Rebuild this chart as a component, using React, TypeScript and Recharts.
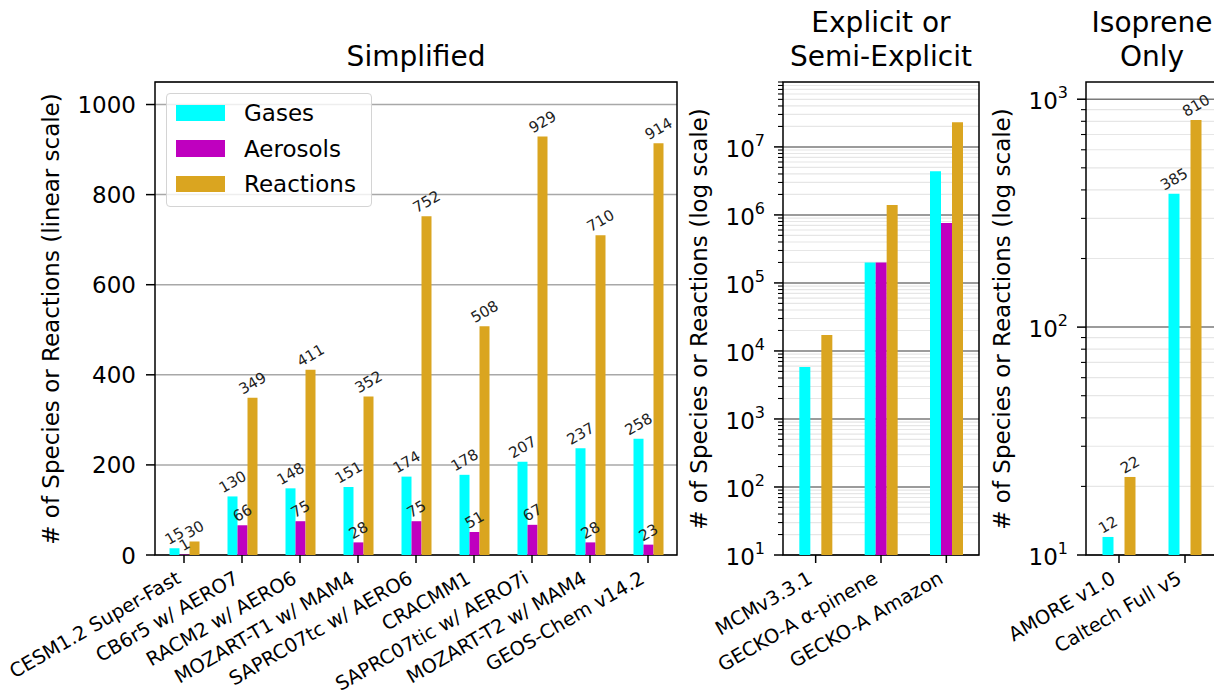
import { BarChart, Bar, XAxis, YAxis, CartesianGrid, Legend, LabelList, ReferenceArea } from 'recharts'

const FONT = "'DejaVu Sans', sans-serif"
const GAS = '#00ffff'
const AER = '#bf00bf'
const RXN = '#daa520'

// Simplified mechanisms (linear scale)
const simpleModels = [
  'CESM1.2 Super-Fast',
  'CB6r5 w/ AERO7',
  'RACM2 w/ AERO6',
  'MOZART-T1 w/ MAM4',
  'SAPRC07tc w/ AERO6',
  'CRACMM1',
  'SAPRC07tic w/ AERO7i',
  'MOZART-T2 w/ MAM4',
  'GEOS-Chem v14.2',
]
const simpleGases = [15, 130, 148, 151, 174, 178, 207, 237, 258]
const simpleAerosols = [1, 66, 75, 28, 75, 51, 67, 28, 23]
const simpleReactions = [30, 349, 411, 352, 752, 508, 929, 710, 914]
const linearTicks = [0, 200, 400, 600, 800, 1000]

// Explicit or semi-explicit (log scale)
const explicitModels = ['MCMv3.3.1', 'GECKO-A α-pinene', 'GECKO-A Amazon']
const explicitGases = [5800, 200000, 4400000]
const explicitAerosols = [null, 200000, 760000]
const explicitReactions = [17200, 1400000, 23000000]
const explicitMajor = [1e1, 1e2, 1e3, 1e4, 1e5, 1e6, 1e7]

// Isoprene only (log scale)
const isopreneModels = ['AMORE v1.0', 'Caltech Full v5']
const isopreneGases = [12, 385]
const isopreneAerosols = [null, null]
const isopreneReactions = [22, 810]
const isopreneMajor = [1e1, 1e2, 1e3]

const seriesOrder = ['Gases', 'Aerosols', 'Reactions']

const minorsFor = (majors: number[], max: number) => {
  const out: number[] = []
  majors.forEach(d => {
    for (let m = 2; m <= 9; m++) if (m * d <= max) out.push(m * d)
  })
  return out
}

const explicitDomain: [number, number] = [10, 9e7]
const isopreneDomain: [number, number] = [10, 1190]
const explicitMinor = minorsFor(explicitMajor, explicitDomain[1])
const isopreneMinor = minorsFor(isopreneMajor, isopreneDomain[1])

const toRows = (names: string[], g: (number | null)[], a: (number | null)[], r: (number | null)[]) =>
  names.map((name, i) => ({ name, gases: g[i], aerosols: a[i], reactions: r[i] }))

const simpleData = toRows(simpleModels, simpleGases, simpleAerosols, simpleReactions)
const explicitData = toRows(explicitModels, explicitGases, explicitAerosols, explicitReactions)
const isopreneData = toRows(isopreneModels, isopreneGases, isopreneAerosols, isopreneReactions)

function LinearTick({ x, y, payload }: any) {
  return (
    <g>
      <line x1={x - 9} x2={x} y1={y} y2={y} stroke="#000" strokeWidth={1.5} />
      <text x={x - 19} y={y} dy={8.5} textAnchor="end" fontSize={23} fontFamily={FONT} fill="#000">
        {payload.value}
      </text>
    </g>
  )
}

const makeLogTick = (majors: number[]) =>
  function LogTick({ x, y, payload }: any) {
    const v = payload.value
    if (!majors.includes(v)) {
      return <line x1={x - 5} x2={x} y1={y} y2={y} stroke="#000" strokeWidth={1.1} />
    }
    const exp = Math.round(Math.log10(v))
    return (
      <g>
        <line x1={x - 9} x2={x} y1={y} y2={y} stroke="#000" strokeWidth={1.5} />
        <text x={x - 18} y={y} dy={10} textAnchor="end" fontSize={23} fontFamily={FONT} fill="#000">
          <tspan>10</tspan>
          <tspan dy={-11} fontSize={16}>{exp}</tspan>
        </text>
      </g>
    )
  }

function CategoryTick({ x, y, payload }: any) {
  const tx = x - 2
  const ty = y + 27
  return (
    <g>
      <line x1={x} x2={x} y1={y} y2={y + 8} stroke="#000" strokeWidth={1.5} />
      <text x={tx} y={ty} textAnchor="end" fontSize={19.4} fontFamily={FONT} fill="#000"
        transform={`rotate(-30 ${tx} ${ty})`}>
        {payload.value}
      </text>
    </g>
  )
}

function ValueLabel(props: any) {
  const { x, y, width, value } = props
  if (value == null) return null
  const fs = 15
  const w = String(value).length * 0.636 * fs
  const cx = Number(x) + Number(width) / 2
  const cy = Number(y) - (w * 0.5 + fs * 0.866) / 2 - 1
  return (
    <text x={cx} y={cy} dy="0.35em" textAnchor="middle" fontSize={fs} fontFamily={FONT} fill="#222"
      transform={`rotate(-30 ${cx} ${cy})`}>
      {value}
    </text>
  )
}

function LegendBox(props: any) {
  const payload = [...(props?.payload || [])].sort(
    (a: any, b: any) => seriesOrder.indexOf(a.value) - seriesOrder.indexOf(b.value),
  )
  return (
    <div style={{
      position: 'relative', width: 206, height: 114, boxSizing: 'border-box',
      border: '1.5px solid #d4d4d4', borderRadius: 4, background: 'rgba(255,255,255,0.8)',
      fontFamily: FONT, fontSize: 23, color: '#000',
    }}>
      {payload.map((p: any, i: number) => (
        <div key={String(p.value)}>
          <div style={{ position: 'absolute', left: 9, top: 10.5 + i * 35.7, width: 49, height: 16.5, background: p.color }} />
          <div style={{ position: 'absolute', left: 77, top: 4.8 + i * 35.7, height: 28, lineHeight: '28px', whiteSpace: 'nowrap' }}>
            {p.value}
          </div>
        </div>
      ))}
    </div>
  )
}

const PLOT_TOP = 82
const X_AXIS_H = 143

const titleStyle: any = {
  position: 'absolute', transform: 'translateX(-50%)', fontFamily: FONT, fontSize: 28,
  lineHeight: '34px', textAlign: 'center', whiteSpace: 'nowrap',
}

const Titles = () => (
  <>
    <div style={{ ...titleStyle, left: 416, top: 40 }}>Simplified</div>
    <div style={{ ...titleStyle, left: 881, top: 6 }}>Explicit or<br />Semi-Explicit</div>
    <div style={{ ...titleStyle, left: 1152, top: 6 }}>Isoprene<br />Only</div>
  </>
)

const YLabel = ({ x, text }: { x: number; text: string }) => (
  <div style={{
    position: 'absolute', left: x - 8, top: 318.5, transform: 'translate(-50%, -50%) rotate(-90deg)',
    fontFamily: FONT, fontSize: 23, whiteSpace: 'nowrap', lineHeight: 'normal',
  }}>
    {text}
  </div>
)

export default function App() {
  return (
    <div style={{ position: 'fixed', left: 0, top: 0, width: 1214, height: 698, overflow: 'hidden', background: '#fff' }}>
      {/* Simplified */}
      <div style={{ position: 'absolute', left: 0, top: 0 }}>
        <BarChart width={700} height={698} data={simpleData} barGap={0} barCategoryGap="25%"
          margin={{ top: PLOT_TOP, right: 23, bottom: 0, left: 0 }}>
          <CartesianGrid vertical={false} stroke="#a8a8a8" strokeWidth={1.5} />
          <XAxis dataKey="name" type="category" interval={0} height={X_AXIS_H} axisLine={false}
            tickLine={false} tickSize={0} tickMargin={0} tick={<CategoryTick />} />
          <YAxis type="number" domain={[0, 1050]} ticks={linearTicks} interval={0} width={155}
            axisLine={false} tickLine={false} tickSize={0} tickMargin={0} tick={<LinearTick />} allowDataOverflow />
          <Legend layout="vertical" align="center" verticalAlign="middle" content={<LegendBox />}
            wrapperStyle={{ left: 166, top: 93, width: 206, height: 114 }} />
          <Bar dataKey="gases" name="Gases" fill={GAS} isAnimationActive={false}>
            <LabelList dataKey="gases" content={<ValueLabel />} />
          </Bar>
          <Bar dataKey="aerosols" name="Aerosols" fill={AER} isAnimationActive={false}>
            <LabelList dataKey="aerosols" content={<ValueLabel />} />
          </Bar>
          <Bar dataKey="reactions" name="Reactions" fill={RXN} isAnimationActive={false}>
            <LabelList dataKey="reactions" content={<ValueLabel />} />
          </Bar>
          <ReferenceArea y1={0} y2={1050} fill="none" stroke="#000" strokeWidth={1.5} />
        </BarChart>
      </div>

      {/* Explicit or Semi-Explicit */}
      <div style={{ position: 'absolute', left: 680, top: 0 }}>
        <BarChart width={320} height={698} data={explicitData} barGap={0} barCategoryGap="25%"
          margin={{ top: PLOT_TOP, right: 21, bottom: 0, left: 0 }}>
          <CartesianGrid vertical={false} stroke="#e6e6e6" strokeWidth={1.2} horizontalValues={explicitMinor} />
          <CartesianGrid vertical={false} stroke="#7a7a7a" strokeWidth={1.5} horizontalValues={explicitMajor} />
          <XAxis dataKey="name" type="category" interval={0} height={X_AXIS_H} axisLine={false}
            tickLine={false} tickSize={0} tickMargin={0} tick={<CategoryTick />} />
          <YAxis type="number" scale="log" domain={explicitDomain} ticks={[...explicitMajor, ...explicitMinor]} interval={0} width={103}
            axisLine={false} tickLine={false} tickSize={0} tickMargin={0} tick={makeLogTick(explicitMajor)} allowDataOverflow />
          <Bar dataKey="gases" name="Gases" fill={GAS} isAnimationActive={false} />
          <Bar dataKey="aerosols" name="Aerosols" fill={AER} isAnimationActive={false} />
          <Bar dataKey="reactions" name="Reactions" fill={RXN} isAnimationActive={false} />
          <ReferenceArea y1={explicitDomain[0]} y2={explicitDomain[1]} fill="none" stroke="#000" strokeWidth={1.5} />
        </BarChart>
      </div>

      {/* Isoprene Only */}
      <div style={{ position: 'absolute', left: 980, top: 0 }}>
        <BarChart width={260} height={698} data={isopreneData} barGap={0} barCategoryGap="25%"
          margin={{ top: PLOT_TOP, right: 22, bottom: 0, left: 0 }}>
          <CartesianGrid vertical={false} stroke="#e6e6e6" strokeWidth={1.2} horizontalValues={isopreneMinor} />
          <CartesianGrid vertical={false} stroke="#7a7a7a" strokeWidth={1.5} horizontalValues={isopreneMajor} />
          <XAxis dataKey="name" type="category" interval={0} height={X_AXIS_H} axisLine={false}
            tickLine={false} tickSize={0} tickMargin={0} tick={<CategoryTick />} />
          <YAxis type="number" scale="log" domain={isopreneDomain} ticks={[...isopreneMajor, ...isopreneMinor]} interval={0} width={106}
            axisLine={false} tickLine={false} tickSize={0} tickMargin={0} tick={makeLogTick(isopreneMajor)} allowDataOverflow />
          <Bar dataKey="gases" name="Gases" fill={GAS} isAnimationActive={false}>
            <LabelList dataKey="gases" content={<ValueLabel />} />
          </Bar>
          <Bar dataKey="aerosols" name="Aerosols" fill={AER} isAnimationActive={false} />
          <Bar dataKey="reactions" name="Reactions" fill={RXN} isAnimationActive={false}>
            <LabelList dataKey="reactions" content={<ValueLabel />} />
          </Bar>
          <ReferenceArea y1={isopreneDomain[0]} y2={isopreneDomain[1]} fill="none" stroke="#000" strokeWidth={1.5} />
        </BarChart>
      </div>

      <Titles />
      <YLabel x={58.5} text="# of Species or Reactions (linear scale)" />
      <YLabel x={707} text="# of Species or Reactions (log scale)" />
      <YLabel x={1010} text="# of Species or Reactions (log scale)" />
    </div>
  )
}
